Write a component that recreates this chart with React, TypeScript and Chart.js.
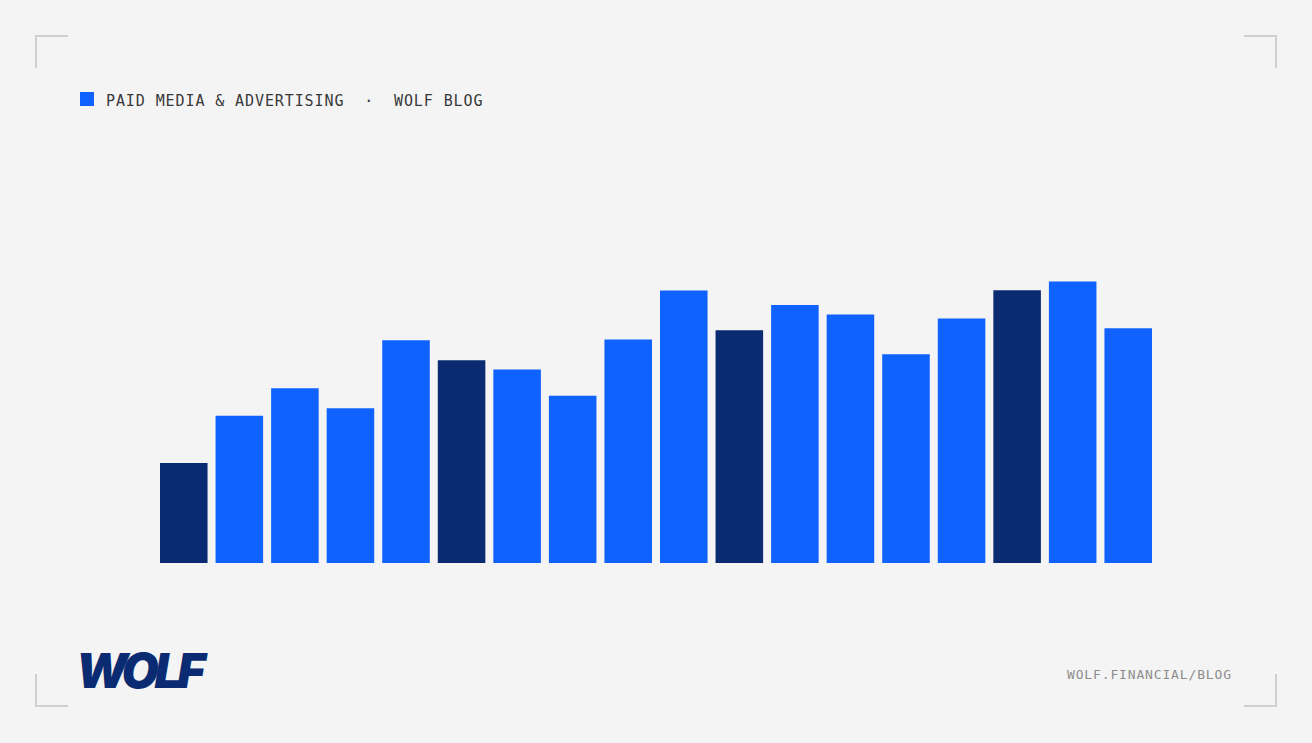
import { useEffect, useRef } from 'react'
import { Chart, ChartConfiguration, registerables } from 'chart.js'

Chart.register(...registerables)

// 18 periods, no labels are shown in the picture
const categories = ['P01', 'P02', 'P03', 'P04', 'P05', 'P06', 'P07', 'P08', 'P09', 'P10', 'P11', 'P12', 'P13', 'P14', 'P15', 'P16', 'P17', 'P18']
const values = [25, 36.8, 43.7, 38.7, 55.7, 50.7, 48.4, 41.8, 55.9, 68.1, 58.2, 64.5, 62.1, 52.2, 61.1, 68.2, 70.4, 58.7]
const highlighted = [true, false, false, false, false, true, false, false, false, false, true, false, false, false, false, true, false, false]

const BLUE = '#0f62fe'
const NAVY = '#0a2b72'
const BG = '#f4f4f4'
const MONO = '"DejaVu Sans Mono", "Liberation Mono", monospace'

function Corner({ left, top, flipX, flipY }: { left: number; top: number; flipX?: boolean; flipY?: boolean }) {
  const c = '#d0d0d0'
  return (
    <div
      style={{
        position: 'absolute',
        left,
        top,
        width: 33,
        height: 33,
        borderLeft: flipX ? 'none' : `2px solid ${c}`,
        borderRight: flipX ? `2px solid ${c}` : 'none',
        borderTop: flipY ? 'none' : `2px solid ${c}`,
        borderBottom: flipY ? `2px solid ${c}` : 'none',
        boxSizing: 'border-box',
      }}
    />
  )
}

function BarChart() {
  const canvasRef = useRef<HTMLCanvasElement>(null)
  const chartRef = useRef<Chart | null>(null)

  useEffect(() => {
    if (!canvasRef.current) return
    const ctx = canvasRef.current.getContext('2d')
    if (!ctx) return

    if (chartRef.current) {
      chartRef.current.destroy()
    }

    const config: ChartConfiguration = {
      type: 'bar',
      data: {
        labels: categories,
        datasets: [
          {
            data: values,
            backgroundColor: highlighted.map(h => (h ? NAVY : BLUE)),
            borderWidth: 0,
            barPercentage: 0.856,
            categoryPercentage: 1,
          },
        ],
      },
      options: {
        animation: false,
        responsive: true,
        maintainAspectRatio: false,
        layout: { padding: 0 },
        plugins: {
          legend: { display: false },
          tooltip: { enabled: false },
        },
        scales: {
          x: { display: false },
          y: { display: false, min: 0, max: 100 },
        },
      },
    }

    chartRef.current = new Chart(ctx, config)

    return () => {
      chartRef.current?.destroy()
      chartRef.current = null
    }
  }, [])

  return (
    <div style={{ position: 'absolute', left: 156, top: 163, width: 1000, height: 400 }}>
      <canvas ref={canvasRef} />
    </div>
  )
}

export default function App() {
  return (
    <div style={{ position: 'fixed', left: 0, top: 0, width: 1312, height: 743, background: BG, overflow: 'hidden' }}>
      <Corner left={35} top={35} />
      <Corner left={1244} top={35} flipX />
      <Corner left={35} top={674} flipY />
      <Corner left={1244} top={674} flipX flipY />

      <div style={{ position: 'absolute', left: 80, top: 92, width: 14, height: 14, background: BLUE }} />
      <div
        style={{
          position: 'absolute',
          left: 106,
          top: 92,
          fontFamily: MONO,
          fontSize: 15,
          letterSpacing: 0.9,
          color: '#393939',
          whiteSpace: 'pre',
        }}
      >
        {'PAID MEDIA & ADVERTISING  ·  WOLF BLOG'}
      </div>

      <BarChart />

      <div
        style={{
          position: 'absolute',
          left: 76,
          top: 641,
          fontFamily: 'Inter, Roboto, sans-serif',
          fontWeight: 900,
          fontStyle: 'italic',
          fontSize: 48,
          letterSpacing: -4.3,
          color: NAVY,
          whiteSpace: 'pre',
        }}
      >
        WOLF
      </div>

      <div
        style={{
          position: 'absolute',
          left: 1067,
          top: 667,
          fontFamily: MONO,
          fontSize: 13,
          letterSpacing: 0.85,
          color: '#8d8d8d',
          whiteSpace: 'pre',
        }}
      >
        WOLF.FINANCIAL/BLOG
      </div>
    </div>
  )
}
